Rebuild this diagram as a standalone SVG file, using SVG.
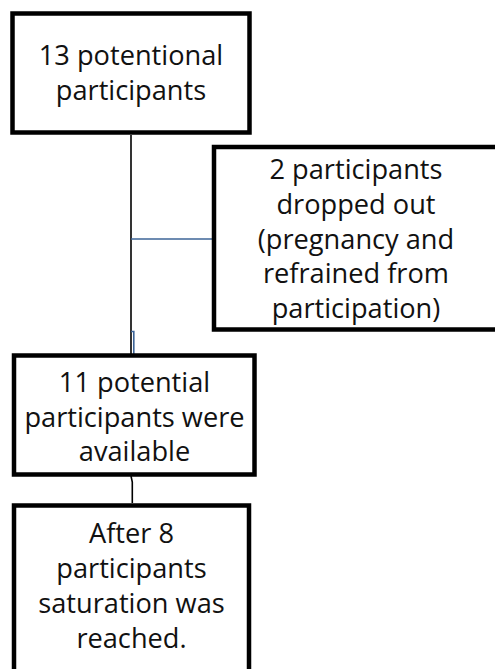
<svg xmlns="http://www.w3.org/2000/svg" width="495" height="669" viewBox="0 0 495 669">
<style>
.box{fill:#ffffff;stroke:#000000;stroke-width:4.5}
.t{font-family:"Open Sans","Segoe UI","DejaVu Sans",sans-serif;font-size:27.2px;fill:#111111;text-anchor:middle}
.blk{fill:none;stroke:#000000;stroke-width:1.6}
.blu{fill:none;stroke:#3d6497;stroke-width:1.6}
</style>
<rect width="495" height="669" fill="#ffffff"/>
<g id="connectors">
<path class="blk" d="M131 135 V354"/>
<path class="blu" d="M131 239 H213"/>
<path class="blu" d="M131 331.5 H133.8 V354"/>
<path class="blk" d="M131 476 L132.3 482 V503"/>
</g>
<g id="node1">
<rect class="box" x="12.5" y="13.5" width="237" height="119"/>
<text class="t" x="131" y="65">13 potentional</text>
<text class="t" x="131" y="100">participants</text>
</g>
<g id="node2">
<rect class="box" x="214" y="147" width="290" height="182.5"/>
<text class="t" x="356" y="179">2 participants</text>
<text class="t" x="356" y="214">dropped out</text>
<text class="t" x="356" y="248.5">(pregnancy and</text>
<text class="t" x="356" y="283">refrained from</text>
<text class="t" x="356" y="318">participation)</text>
</g>
<g id="node3">
<rect class="box" x="14" y="355.5" width="240.5" height="119"/>
<text class="t" x="134.5" y="392">11 potential</text>
<text class="t" x="134.5" y="427">participants were</text>
<text class="t" x="134.5" y="461">available</text>
</g>
<g id="node4">
<rect class="box" x="14" y="505.5" width="235" height="200"/>
<text class="t" x="131.5" y="543">After 8</text>
<text class="t" x="131.5" y="578">participants</text>
<text class="t" x="131.5" y="613">saturation was</text>
<text class="t" x="131.5" y="648">reached.</text>
</g>
</svg>
